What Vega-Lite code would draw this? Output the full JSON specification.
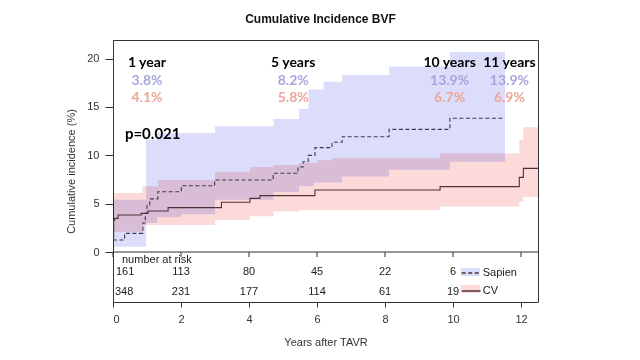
{
  "$schema": "https://vega.github.io/schema/vega-lite/v6.json",
  "width": 425,
  "height": 262,
  "autosize": {"type": "none"},
  "padding": {"left": 113, "top": 40, "right": 102, "bottom": 58},
  "background": "white",
  "title": {"text": "Cumulative Incidence BVF", "font": "Liberation Sans", "fontSize": 12, "fontWeight": "bold", "color": "#111", "anchor": "middle", "baseline": "alphabetic", "offset": 5, "dx": -5},
  "config": {
    "view": {"stroke": "#333", "strokeWidth": 1},
    "axis": {"labelFont": "Liberation Sans", "titleFont": "Liberation Sans", "labelFontSize": 11, "titleFontSize": 11, "titleFontWeight": "normal", "labelColor": "#333", "titleColor": "#333", "tickColor": "#333", "grid": false, "domain": false},
    "legend": {"labelFont": "Liberation Sans", "labelFontSize": 11, "labelColor": "#222"},
    "text": {"font": "Liberation Sans", "fontSize": 11, "color": "#222"}
  },
  "datasets": {
    "bands": [
      {"series": "Sapien CI", "t": 0, "lo": 0.55, "hi": 5.4},
      {"series": "Sapien CI", "t": 0.97, "lo": 3.0, "hi": 11.6},
      {"series": "Sapien CI", "t": 1.3, "lo": 3.6, "hi": 12.3},
      {"series": "Sapien CI", "t": 2.0, "lo": 3.9, "hi": 12.3},
      {"series": "Sapien CI", "t": 3.0, "lo": 5.4, "hi": 13.0},
      {"series": "Sapien CI", "t": 4.72, "lo": 6.2, "hi": 13.75},
      {"series": "Sapien CI", "t": 5.47, "lo": 6.8, "hi": 14.8},
      {"series": "Sapien CI", "t": 5.75, "lo": 6.8, "hi": 16.8},
      {"series": "Sapien CI", "t": 5.9, "lo": 7.2, "hi": 16.8},
      {"series": "Sapien CI", "t": 6.2, "lo": 7.2, "hi": 17.6},
      {"series": "Sapien CI", "t": 6.74, "lo": 7.8, "hi": 18.3},
      {"series": "Sapien CI", "t": 8.12, "lo": 8.5, "hi": 19.2},
      {"series": "Sapien CI", "t": 9.91, "lo": 9.34, "hi": 20.7},
      {"series": "Sapien CI", "t": 11.53, "lo": 9.34, "hi": 20.7},
      {"series": "CV CI", "t": 0, "lo": 2.1, "hi": 6.1},
      {"series": "CV CI", "t": 0.87, "lo": 2.8, "hi": 6.8},
      {"series": "CV CI", "t": 1.32, "lo": 2.8, "hi": 7.45},
      {"series": "CV CI", "t": 3.0, "lo": 3.3, "hi": 8.3},
      {"series": "CV CI", "t": 4.03, "lo": 3.7, "hi": 8.8},
      {"series": "CV CI", "t": 4.72, "lo": 4.2, "hi": 9.0},
      {"series": "CV CI", "t": 5.47, "lo": 4.35, "hi": 9.2},
      {"series": "CV CI", "t": 6.0, "lo": 4.35, "hi": 9.5},
      {"series": "CV CI", "t": 6.44, "lo": 4.35, "hi": 9.7},
      {"series": "CV CI", "t": 9.62, "lo": 4.7, "hi": 10.2},
      {"series": "CV CI", "t": 11.95, "lo": 5.2, "hi": 11.6},
      {"series": "CV CI", "t": 12.07, "lo": 5.7, "hi": 12.9},
      {"series": "CV CI", "t": 12.5, "lo": 5.7, "hi": 12.9}
    ],
    "lines": [
      {"group": "Sapien", "t": 0, "v": 1.25},
      {"group": "Sapien", "t": 0.34, "v": 1.93},
      {"group": "Sapien", "t": 0.88, "v": 3.0},
      {"group": "Sapien", "t": 0.95, "v": 4.0},
      {"group": "Sapien", "t": 1.0, "v": 4.9},
      {"group": "Sapien", "t": 1.08, "v": 5.5},
      {"group": "Sapien", "t": 1.32, "v": 6.24},
      {"group": "Sapien", "t": 2.01, "v": 6.85},
      {"group": "Sapien", "t": 2.99, "v": 7.45},
      {"group": "Sapien", "t": 4.71, "v": 8.14},
      {"group": "Sapien", "t": 5.44, "v": 8.8},
      {"group": "Sapien", "t": 5.59, "v": 9.34},
      {"group": "Sapien", "t": 5.74, "v": 10.0},
      {"group": "Sapien", "t": 5.94, "v": 10.8},
      {"group": "Sapien", "t": 6.44, "v": 11.35},
      {"group": "Sapien", "t": 6.74, "v": 11.93},
      {"group": "Sapien", "t": 8.12, "v": 12.69},
      {"group": "Sapien", "t": 9.91, "v": 13.83},
      {"group": "Sapien", "t": 11.53, "v": 13.83},
      {"group": "CV", "t": 0, "v": 1.5},
      {"group": "CV", "t": 0.02, "v": 3.3},
      {"group": "CV", "t": 0.05, "v": 3.48},
      {"group": "CV", "t": 0.15, "v": 3.83},
      {"group": "CV", "t": 0.83, "v": 4.0},
      {"group": "CV", "t": 1.03, "v": 4.24},
      {"group": "CV", "t": 1.62, "v": 4.59},
      {"group": "CV", "t": 3.19, "v": 5.15},
      {"group": "CV", "t": 4.03, "v": 5.55},
      {"group": "CV", "t": 4.32, "v": 5.83},
      {"group": "CV", "t": 5.94, "v": 6.41},
      {"group": "CV", "t": 9.62, "v": 6.76},
      {"group": "CV", "t": 11.95, "v": 7.72},
      {"group": "CV", "t": 12.07, "v": 8.65},
      {"group": "CV", "t": 12.5, "v": 8.65}
    ],
    "annot": [
      {"yr": "1 year", "t": 1.0, "s": "3.8%", "c": "4.1%"},
      {"yr": "5 years", "t": 5.3, "s": "8.2%", "c": "5.8%"},
      {"yr": "10 years", "t": 9.9, "s": "13.9%", "c": "6.7%"},
      {"yr": "11 years", "t": 11.66, "s": "13.9%", "c": "6.9%"}
    ],
    "risk": [
      {"group": "Sapien", "t": 0, "n": 161},
      {"group": "Sapien", "t": 2, "n": 113},
      {"group": "Sapien", "t": 4, "n": 80},
      {"group": "Sapien", "t": 6, "n": 45},
      {"group": "Sapien", "t": 8, "n": 22},
      {"group": "Sapien", "t": 10, "n": 6},
      {"group": "CV", "t": 0, "n": 348},
      {"group": "CV", "t": 2, "n": 231},
      {"group": "CV", "t": 4, "n": 177},
      {"group": "CV", "t": 6, "n": 114},
      {"group": "CV", "t": 8, "n": 61},
      {"group": "CV", "t": 10, "n": 19}
    ],
    "xticks": [{"t": 0}, {"t": 2}, {"t": 4}, {"t": 6}, {"t": 8}, {"t": 10}, {"t": 12}]
  },
  "layer": [
    {
      "data": {"name": "bands"},
      "mark": {"type": "area", "interpolate": "step-after", "blend": "multiply", "opacity": 1},
      "encoding": {
        "x": {"field": "t", "type": "quantitative", "title": "Years after TAVR", "scale": {"domain": [0, 12.5], "nice": false, "zero": false},
              "axis": {"orient": "bottom", "values": [0, 2, 4, 6, 8, 10, 12], "tickSize": 5, "labelPadding": 6, "title": "Years after TAVR", "titlePadding": 12}},
        "y": {"field": "lo", "type": "quantitative", "title": "Cumulative incidence (%)", "scale": {"domain": [-5.17, 21.93], "nice": false, "zero": false},
              "axis": {"values": [0, 5, 10, 15, 20], "tickSize": 8, "labelPadding": 6, "title": "Cumulative incidence (%)", "titlePadding": 10}},
        "y2": {"field": "hi"},
        "fill": {"field": "series", "type": "nominal", "scale": {"domain": ["Sapien CI", "CV CI"], "range": ["#dcdcfb", "#fcdada"]},
                 "legend": {"orient": "none", "legendX": 347.7, "legendY": 222.5, "title": null, "symbolType": "M-1,-0.42H1V0.42H-1Z", "symbolSize": 361, "symbolStrokeWidth": 0, "labelExpr": "''", "rowPadding": 2, "padding": 0, "labelOffset": 1}}
      }
    },
    {
      "data": {"name": "xticks"},
      "mark": {"type": "rule", "color": "#333", "strokeWidth": 1},
      "encoding": {
        "x": {"field": "t", "type": "quantitative", "title": "Years after TAVR"},
        "y": {"datum": 0},
        "y2": {"datum": -0.52}
      }
    },
    {
      "data": {"name": "lines"},
      "mark": {"type": "line", "interpolate": "step-after", "strokeWidth": 1.1},
      "encoding": {
        "x": {"field": "t", "type": "quantitative", "title": "Years after TAVR"},
        "y": {"field": "v", "type": "quantitative", "title": "Cumulative incidence (%)"},
        "stroke": {"condition": {"test": "datum.group === 'Sapien'", "value": "#3c3c48"}, "value": "#4e3236"},
        "strokeDash": {"field": "group", "type": "nominal", "scale": {"domain": ["Sapien", "CV"], "range": [[4, 2.5], [1, 0]]},
                 "legend": {"orient": "none", "legendX": 347.7, "legendY": 222.5, "title": null, "symbolType": "stroke", "symbolSize": 361, "symbolStrokeWidth": 1.3, "rowPadding": 2, "padding": 0, "labelOffset": 1,
                            "encoding": {"symbols": {"update": {"stroke": {"signal": "datum.value === 'Sapien' ? '#8686d6' : '#a04a4a'"}}}}}}
      }
    },
    {
      "data": {"values": [{}]},
      "mark": {"type": "rule", "color": "#333", "strokeWidth": 1},
      "encoding": {"y": {"datum": 0}}
    },
    {
      "data": {"name": "annot"},
      "mark": {"type": "text", "font": "Lato", "fontWeight": "bold", "fontSize": 14, "color": "#000", "baseline": "middle"},
      "encoding": {"x": {"field": "t", "type": "quantitative", "title": "Years after TAVR"}, "y": {"datum": 19.5}, "text": {"field": "yr"}}
    },
    {
      "data": {"name": "annot"},
      "mark": {"type": "text", "font": "Lato", "fontWeight": "bold", "fontSize": 14, "color": "#a6a6de", "baseline": "middle"},
      "encoding": {"x": {"field": "t", "type": "quantitative", "title": "Years after TAVR"}, "y": {"datum": 17.69}, "text": {"field": "s"}}
    },
    {
      "data": {"name": "annot"},
      "mark": {"type": "text", "font": "Lato", "fontWeight": "bold", "fontSize": 14, "color": "#eea698", "baseline": "middle"},
      "encoding": {"x": {"field": "t", "type": "quantitative", "title": "Years after TAVR"}, "y": {"datum": 15.9}, "text": {"field": "c"}}
    },
    {
      "data": {"values": [{"label": "p=0.021"}]},
      "mark": {"type": "text", "font": "Lato", "fontWeight": "bold", "fontSize": 15, "color": "#000", "baseline": "middle", "align": "left"},
      "encoding": {"x": {"datum": 0.35}, "y": {"datum": 12.17}, "text": {"field": "label"}}
    },
    {
      "data": {"values": [{"label": "number at risk"}]},
      "mark": {"type": "text", "baseline": "middle", "align": "left", "dx": 9},
      "encoding": {"x": {"datum": 0}, "y": {"datum": -0.83}, "text": {"field": "label"}}
    },
    {
      "data": {"name": "risk"},
      "transform": [{"filter": "datum.group === 'Sapien' && datum.t === 0"}],
      "mark": {"type": "text", "baseline": "middle", "align": "left", "dx": 3},
      "encoding": {"x": {"field": "t", "type": "quantitative", "title": "Years after TAVR"}, "y": {"datum": -2.04}, "text": {"field": "n"}}
    },
    {
      "data": {"name": "risk"},
      "transform": [{"filter": "datum.group === 'Sapien' && datum.t > 0"}],
      "mark": {"type": "text", "baseline": "middle", "align": "center"},
      "encoding": {"x": {"field": "t", "type": "quantitative", "title": "Years after TAVR"}, "y": {"datum": -2.04}, "text": {"field": "n"}}
    },
    {
      "data": {"name": "risk"},
      "transform": [{"filter": "datum.group === 'CV' && datum.t === 0"}],
      "mark": {"type": "text", "baseline": "middle", "align": "left", "dx": 2},
      "encoding": {"x": {"field": "t", "type": "quantitative", "title": "Years after TAVR"}, "y": {"datum": -4.1}, "text": {"field": "n"}}
    },
    {
      "data": {"name": "risk"},
      "transform": [{"filter": "datum.group === 'CV' && datum.t > 0"}],
      "mark": {"type": "text", "baseline": "middle", "align": "center"},
      "encoding": {"x": {"field": "t", "type": "quantitative", "title": "Years after TAVR"}, "y": {"datum": -4.1}, "text": {"field": "n"}}
    }
  ]
}
